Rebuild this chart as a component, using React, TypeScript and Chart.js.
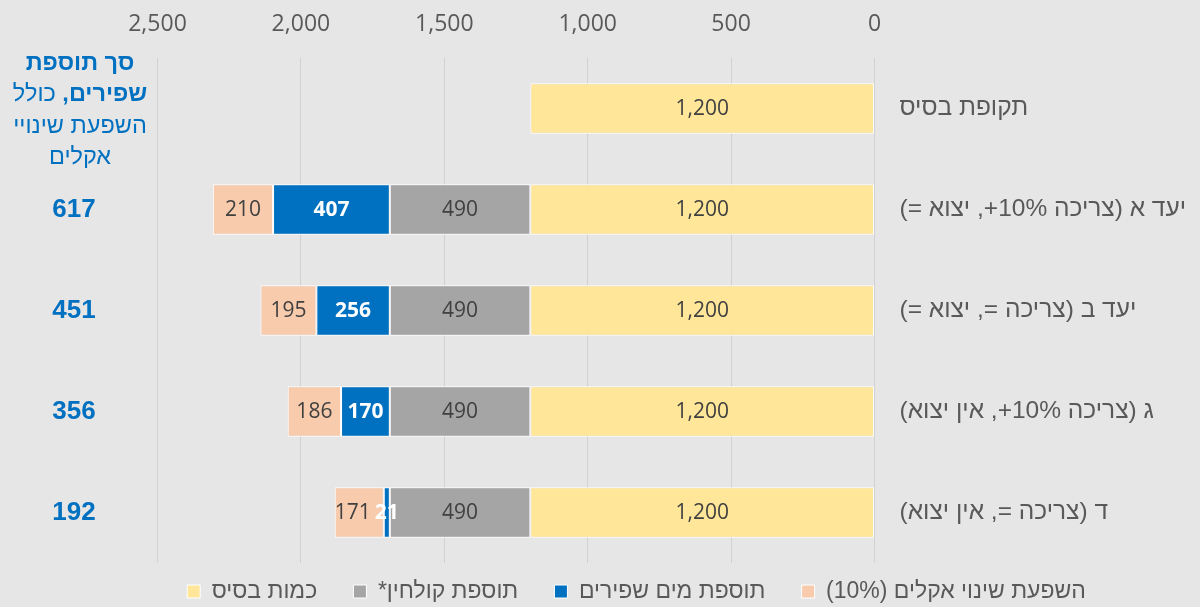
import { useEffect, useRef } from "react";
import { Chart, registerables } from "chart.js";

Chart.register(...registerables);

// ---------- data ----------
const categories = [
  "תקופת בסיס",
  "יעד א (צריכה \u200E+10%, יצוא =)",
  "יעד ב (צריכה =, יצוא =)",
  "ג (צריכה \u200E+10%, אין יצוא)",
  "ד (צריכה =, אין יצוא)",
];
const seriesNames = [
  "כמות בסיס",
  "תוספת קולחין*",
  "תוספת מים שפירים",
  "השפעת שינוי אקלים (10%)",
];
const baseAmount = [1200, 1200, 1200, 1200, 1200];
const reclaimedAddition = [null, 490, 490, 490, 490];
const freshWaterAddition = [null, 407, 256, 170, 21];
const climateImpact = [null, 210, 195, 186, 171];
const totalFreshAddition = [null, 617, 451, 356, 192];
const xTickValues = [0, 500, 1000, 1500, 2000, 2500];
const totalHeaderLines = [
  [{ text: "סך תוספת", bold: true }],
  [{ text: "שפירים,", bold: true }, { text: " כולל", bold: false }],
  [{ text: "השפעת שינויי", bold: false }],
  [{ text: "אקלים", bold: false }],
];

// ---------- styles ----------
const BG = "#E7E6E6";
const COLORS = ["#FFE699", "#A5A5A5", "#0070C0", "#F8CBAD"];
const TEXT_GRAY = "#595959";
const LABEL_DARK = "#404040";
const BLUE = "#0070C0";
const NUM_FONT = "'Open Sans', 'Liberation Sans', sans-serif";
const HEB_FONT = "'Liberation Sans', Arial, sans-serif";

const fmt = (v: number) => Number(v).toLocaleString("en-US");

const bgPlugin = {
  id: "bgFill",
  beforeDraw(chart: any) {
    const { ctx, width, height } = chart;
    ctx.save();
    ctx.fillStyle = BG;
    ctx.fillRect(0, 0, width, height);
    ctx.restore();
  },
};

const barLabelPlugin = {
  id: "barLabels",
  afterDatasetsDraw(chart: any) {
    const { ctx } = chart;
    ctx.save();
    ctx.direction = "ltr";
    ctx.textAlign = "center";
    ctx.textBaseline = "middle";
    const leftEdge: Record<number, number> = {};
    chart.data.datasets.forEach((ds: any, di: number) => {
      const meta = chart.getDatasetMeta(di);
      const isWater = di === 2;
      ctx.font = `${isWater ? "bold " : ""}21px ${NUM_FONT}`;
      ctx.fillStyle = isWater ? "#FFFFFF" : LABEL_DARK;
      meta.data.forEach((bar: any, i: number) => {
        const v = ds.data[i];
        if (v == null) return;
        const p = bar.getProps(["x", "base", "y"], true);
        const text = fmt(v);
        const w = ctx.measureText(text).width;
        let cx = (p.x + p.base) / 2;
        // keep a label from running into the one drawn just to its right
        if (leftEdge[i] !== undefined && cx + w / 2 > leftEdge[i] - 4) {
          cx = leftEdge[i] - 4 - w / 2;
        }
        ctx.fillText(text, cx, p.y + 1);
        leftEdge[i] = cx - w / 2;
      });
    });
    ctx.restore();
  },
};

const totalsPlugin = {
  id: "totalsColumn",
  afterDraw(chart: any) {
    const { ctx } = chart;
    const yScale = chart.scales.y;
    ctx.save();
    ctx.direction = "rtl";
    ctx.fillStyle = BLUE;
    ctx.textBaseline = "alphabetic";
    const cx = 80;
    const baselines = [70, 101, 133, 164];
    totalHeaderLines.forEach((parts, li) => {
      const widths = parts.map((p) => {
        ctx.font = `${p.bold ? "bold " : ""}23.5px ${HEB_FONT}`;
        return ctx.measureText(p.text).width;
      });
      const total = widths.reduce((a, b) => a + b, 0);
      let right = cx + total / 2;
      parts.forEach((p, pi) => {
        ctx.font = `${p.bold ? "bold " : ""}23.5px ${HEB_FONT}`;
        ctx.textAlign = "right";
        ctx.fillText(p.text, right, baselines[li]);
        right -= widths[pi];
      });
    });
    ctx.direction = "ltr";
    ctx.textAlign = "center";
    ctx.textBaseline = "middle";
    ctx.font = `bold 26px ${HEB_FONT}`;
    totalFreshAddition.forEach((v, i) => {
      if (v == null) return;
      ctx.fillText(String(v), 74, yScale.getPixelForValue(i));
    });
    ctx.restore();
  },
};

export default function App() {
  const canvasRef = useRef<HTMLCanvasElement | null>(null);

  useEffect(() => {
    document.body.style.margin = "0";
    document.body.style.background = BG;
    const canvas = canvasRef.current;
    if (!canvas) return;
    const seriesData = [baseAmount, reclaimedAddition, freshWaterAddition, climateImpact];
    const chart = new Chart(canvas, {
      type: "bar",
      data: {
        labels: categories,
        datasets: seriesData.map((d, i) => ({
          label: seriesNames[i],
          data: d,
          backgroundColor: COLORS[i],
          borderColor: "#FFFFFF",
          borderWidth: 1,
          borderSkipped: false,
          categoryPercentage: 1,
          barPercentage: 0.5,
        })),
      },
      options: {
        indexAxis: "y",
        animation: false,
        responsive: true,
        maintainAspectRatio: false,
        layout: { padding: { left: 73, right: 0, top: 0, bottom: 0 } },
        scales: {
          x: {
            type: "linear",
            position: "top",
            reverse: true,
            stacked: true,
            min: 0,
            max: 2500,
            afterBuildTicks: (scale: any) => {
              scale.ticks = xTickValues.map((v) => ({ value: v }));
            },
            afterFit: (scale: any) => {
              scale.height = 58;
            },
            grid: { color: "#D3D2D2", lineWidth: 1, drawTicks: false },
            border: { display: false },
            ticks: {
              padding: 20,
              color: TEXT_GRAY,
              font: { family: NUM_FONT, size: 23 },
              callback: (v: any) => fmt(v),
              maxRotation: 0,
            },
          },
          y: {
            position: "right",
            stacked: true,
            afterFit: (scale: any) => {
              scale.width = 325.5;
            },
            grid: { display: false, drawTicks: false },
            border: { display: false },
            ticks: {
              padding: 25,
              color: TEXT_GRAY,
              font: { family: HEB_FONT, size: 24.5 },
            },
          },
          // empty spacer axis that reserves the strip left of the plot
          ySpacer: {
            type: "category",
            position: "left",
            afterFit: (scale: any) => {
              scale.width = 84.5;
            },
            grid: { display: false, drawTicks: false },
            border: { display: false },
            ticks: { display: false },
          },
        },
        plugins: {
          legend: {
            position: "bottom",
            maxHeight: 44,
            textDirection: "rtl",
            labels: {
              boxWidth: 13,
              boxHeight: 13,
              padding: 17,
              color: TEXT_GRAY,
              font: { family: HEB_FONT, size: 23 },
              generateLabels: (chart: any) => {
                const items = Chart.defaults.plugins.legend.labels.generateLabels(chart);
                return items.map((it: any, i: number) => ({
                  ...it,
                  text: (i < items.length - 1 ? "\u00A0\u00A0\u00A0" : "") + it.text,
                }));
              },
            },
          },
          tooltip: { enabled: false },
        },
      },
      plugins: [bgPlugin, barLabelPlugin, totalsPlugin],
    } as any);
    return () => chart.destroy();
  }, []);

  return (
    <div style={{ position: "fixed", left: 0, top: 0, width: 1200, height: 607, background: BG }}>
      <canvas ref={canvasRef} dir="rtl" style={{ direction: "rtl" }} />
    </div>
  );
}
